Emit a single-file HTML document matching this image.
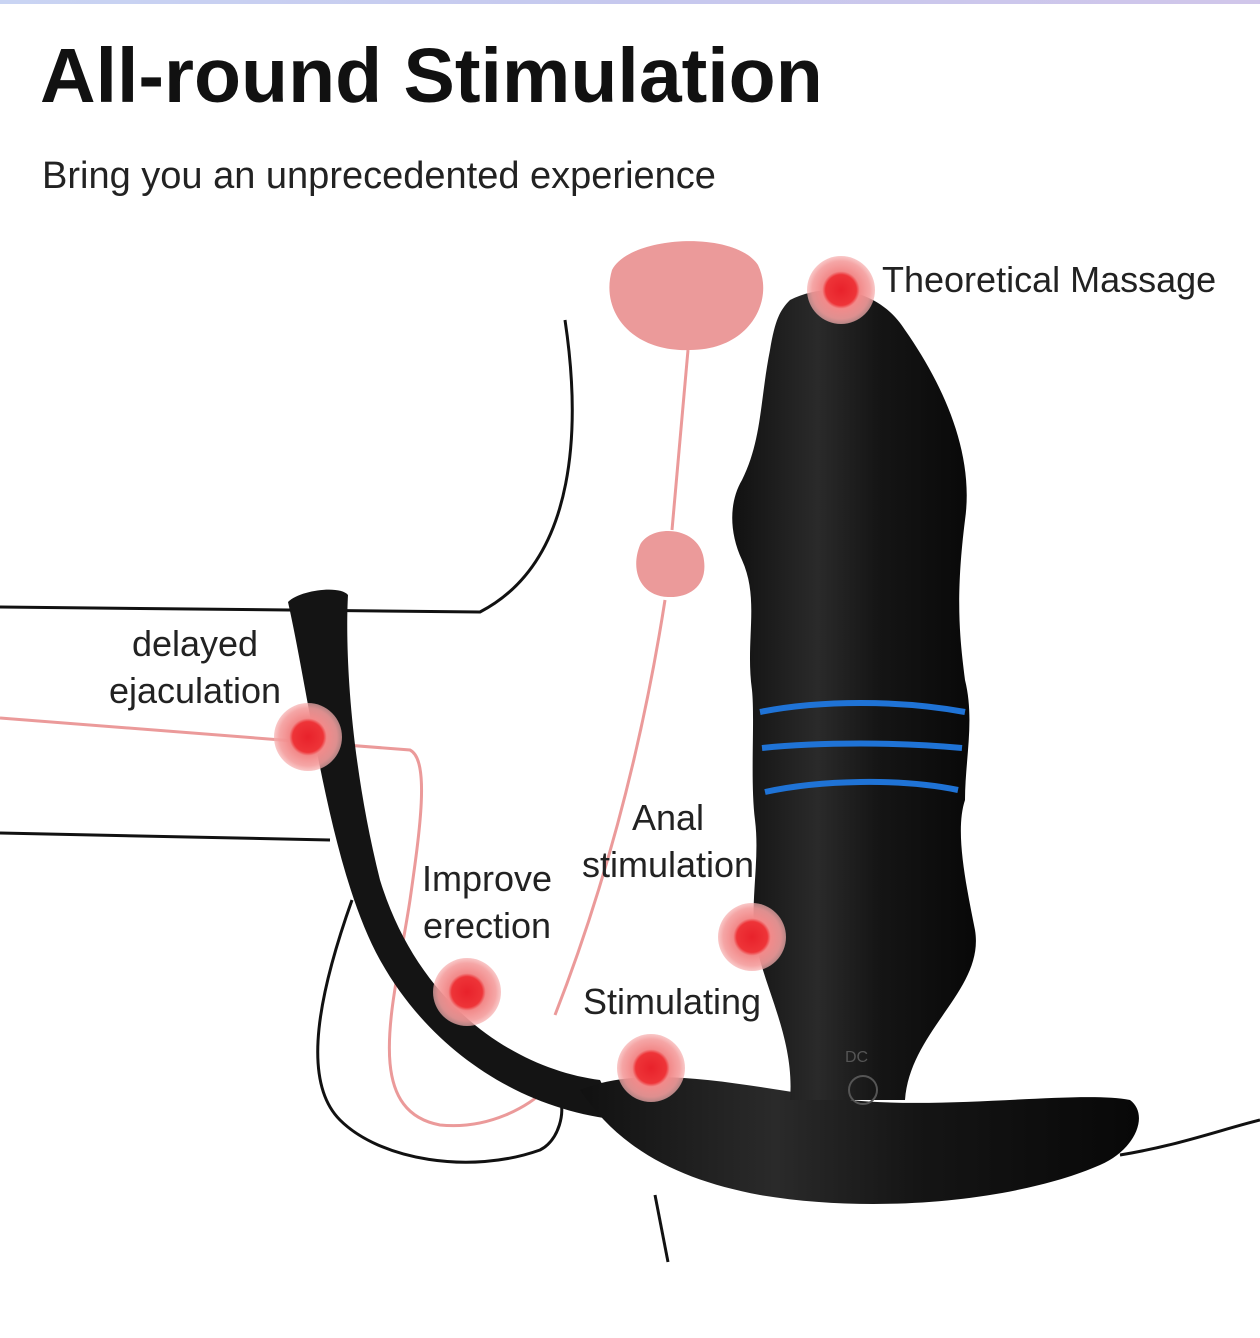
<!DOCTYPE html>
<html><head><meta charset="utf-8"><style>
html,body{margin:0;padding:0;background:#fff;}
body{width:1260px;height:1338px;position:relative;overflow:hidden;font-family:"Liberation Sans",sans-serif;}
.bar{position:absolute;left:0;top:0;width:1260px;height:4px;background:linear-gradient(90deg,#c9d4f3,#c6c8ee,#d0c6ea);}
h1{position:absolute;left:40px;top:32px;margin:0;font-size:77px;font-weight:bold;letter-spacing:0px;color:#111;}
.sub{position:absolute;left:42px;top:155px;font-size:38px;color:#222;}
svg{position:absolute;left:0;top:0;}
text{font-family:"Liberation Sans",sans-serif;font-size:36px;fill:#222;}
</style></head><body>
<div class="bar"></div>
<h1>All-round Stimulation</h1>
<div class="sub">Bring you an unprecedented experience</div>
<svg width="1260" height="1338" viewBox="0 0 1260 1338">
<defs>
<radialGradient id="t">
<stop offset="0" stop-color="#e8222b"/><stop offset="0.45" stop-color="#ee3438"/><stop offset="0.55" stop-color="#f28a8a"/><stop offset="0.85" stop-color="#f49c9c" stop-opacity="0.9"/><stop offset="1" stop-color="#f6b0b0" stop-opacity="0.7"/>
</radialGradient>
<linearGradient id="b" x1="0" x2="1"><stop offset="0" stop-color="#111"/><stop offset="0.35" stop-color="#2a2a2a"/><stop offset="0.6" stop-color="#151515"/><stop offset="1" stop-color="#080808"/></linearGradient>
</defs>
<g fill="none" stroke="#111" stroke-width="3">
<path d="M565 320 C580 420 580 560 480 612 L0 607"/>
<path d="M0 833 L330 840"/>
<path d="M352 900 C320 990 300 1080 340 1120 C380 1160 470 1175 540 1150 C560 1140 565 1110 560 1100"/>
<path d="M1120 1155 C1180 1145 1220 1130 1260 1120"/>
<path d="M655 1195 L668 1262"/>
</g>
<g fill="#eb9a9a">
<path d="M612 270 C630 235 735 230 758 265 C775 300 750 350 690 350 C630 352 600 310 612 270Z"/>
<path d="M640 545 C650 525 695 525 703 555 C710 585 690 598 668 597 C640 596 630 570 640 545Z"/>
</g>
<g fill="none" stroke="#eb9a9a" stroke-width="3">
<path d="M688 350 L672 530"/>
<path d="M665 600 C640 760 600 900 555 1015"/>
<path d="M0 718 L410 750 C430 760 420 830 410 900 C395 1000 360 1110 440 1125 C490 1130 530 1105 545 1090"/>
</g>
<path d="M288 602 C300 590 340 585 348 595 C345 650 350 760 380 880 C420 1010 520 1070 600 1080 L620 1120 C520 1110 430 1050 380 960 C330 870 310 700 288 602Z" fill="#141414"/>
<path d="M580 1090 C650 1060 760 1090 850 1100 C950 1110 1080 1090 1130 1100 C1150 1115 1135 1150 1100 1165 C1020 1200 880 1215 760 1195 C680 1180 620 1150 580 1090Z" fill="url(#b)"/>
<path d="M790 300 C830 280 880 290 905 330 C940 380 975 450 965 520 C955 600 960 640 965 680 C975 720 965 760 965 800 C955 830 965 880 975 930 C985 990 910 1030 905 1100 L790 1100 C795 1040 765 990 755 940 C750 900 760 860 755 820 C750 780 755 720 752 690 C745 640 760 600 742 560 C728 530 730 500 742 480 C762 440 760 400 770 350 C775 320 780 310 790 300Z" fill="url(#b)"/>
<g fill="none" stroke="#1f73d6" stroke-width="6">
<path d="M760 712 C820 700 900 700 965 712"/>
<path d="M762 748 C820 742 900 742 962 748"/>
<path d="M765 792 C820 780 900 778 958 790"/>
</g>
<circle cx="863" cy="1090" r="14" fill="none" stroke="#555" stroke-width="2"/>
<text x="845" y="1062" style="font-size:16px;fill:#555">DC</text>
<circle cx="841" cy="290" r="34" fill="url(#t)"/>
<circle cx="308" cy="737" r="34" fill="url(#t)"/>
<circle cx="467" cy="992" r="34" fill="url(#t)"/>
<circle cx="651" cy="1068" r="34" fill="url(#t)"/>
<circle cx="752" cy="937" r="34" fill="url(#t)"/>
<text x="882" y="292">Theoretical Massage</text>
<text x="195" y="656" text-anchor="middle">delayed</text>
<text x="195" y="703" text-anchor="middle">ejaculation</text>
<text x="668" y="830" text-anchor="middle">Anal</text>
<text x="668" y="877" text-anchor="middle">stimulation</text>
<text x="487" y="891" text-anchor="middle">Improve</text>
<text x="487" y="938" text-anchor="middle">erection</text>
<text x="672" y="1014" text-anchor="middle">Stimulating</text>
</svg>
</body></html>
